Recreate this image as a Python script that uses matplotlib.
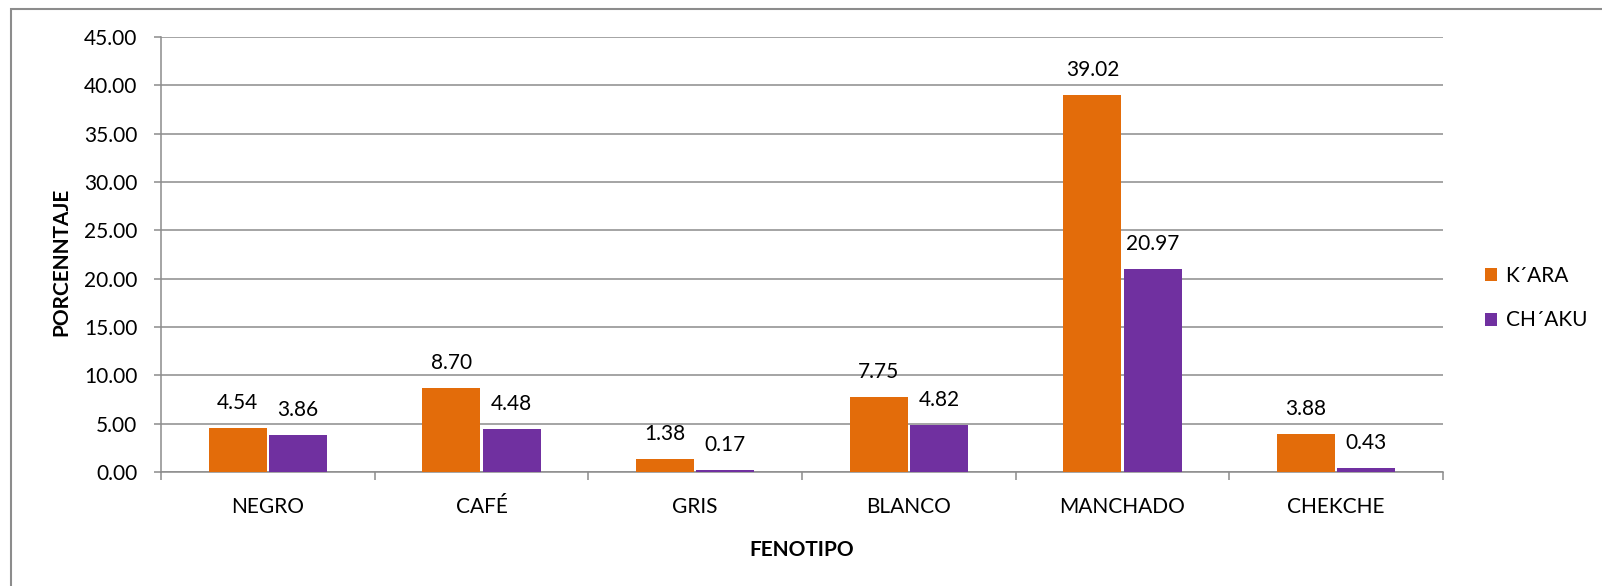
import matplotlib
matplotlib.use("Agg")
import matplotlib.pyplot as plt
import numpy as np
from matplotlib.patches import Rectangle

categories = ["NEGRO", "CAFÉ", "GRIS", "BLANCO", "MANCHADO", "CHEKCHE"]
kara = [4.54, 8.70, 1.38, 7.75, 39.02, 3.88]
chaku = [3.86, 4.48, 0.17, 4.82, 20.97, 0.43]
series_names = ["K´ARA", "CH´AKU"]
colors = ["#E36C0A", "#7030A0"]
yticks = [0, 5, 10, 15, 20, 25, 30, 35, 40, 45]

plt.rcParams['font.family'] = ['Lato', 'DejaVu Sans']

W, H = 1602, 586
fig = plt.figure(figsize=(W / 100, H / 100), dpi=100)
ax = fig.add_axes([161 / W, 1 - 472 / H, (1443 - 161) / W, (472 - 37) / H])

# figure border (top and left visible)
fig.patches.append(Rectangle((11 / W, -0.1), 1.2, 1 - 9 / H + 0.1, transform=fig.transFigure,
                             fill=False, edgecolor="#8c8c8c", linewidth=1.5))

x = np.arange(len(categories))
bw = 0.272
off = 0.141
b1 = ax.bar(x - off, kara, bw, color=colors[0], label=series_names[0], zorder=3)
b2 = ax.bar(x + off, chaku, bw, color=colors[1], label=series_names[1], zorder=3)

fs = 15
for xs, vals in ((x - off, kara), (x + off, chaku)):
    for xi, v in zip(xs, vals):
        ax.annotate(f"{v:.2f}", (xi, v), xytext=(0, 18), textcoords="offset points",
                    ha="center", va="center", fontsize=fs, color="black")

ax.set_xlim(-0.5, len(categories) - 0.5)
ax.set_ylim(0, 45)
ax.set_yticks(yticks)
ax.set_yticklabels([f"{t:.2f}" for t in yticks])
ax.yaxis.grid(True, color="#8c8c8c", linewidth=1.1, zorder=0)
ax.set_axisbelow(True)

ax.set_xticks(x)
ax.set_xticklabels(categories)
ax.set_xticks(np.arange(-0.5, len(categories), 1.0), minor=True)
ax.tick_params(axis="x", which="major", length=0, pad=18, labelsize=fs)
ax.tick_params(axis="x", which="minor", length=6, width=1.1, color="#8c8c8c")
ax.tick_params(axis="y", length=5, width=1.1, color="#8c8c8c", pad=12, labelsize=fs)

for s in ("top", "right"):
    ax.spines[s].set_visible(False)
for s in ("left", "bottom"):
    ax.spines[s].set_color("#8c8c8c")
    ax.spines[s].set_linewidth(1.1)

fig.text(61 / W, 1 - 262 / H, "PORCENNTAJE", rotation=90, ha="center", va="center",
         fontsize=fs, fontweight="bold")
fig.text(((161 + 1443) / 2) / W, 1 - 550 / H, "FENOTIPO", ha="center", va="center",
         fontsize=fs, fontweight="bold")

fig.legend(handles=[b1, b2], labels=series_names, loc="center left",
           bbox_to_anchor=(1466 / W, 1 - 298 / H), frameon=False, fontsize=fs,
           handlelength=0.6, handleheight=0.6, handletextpad=0.4, labelspacing=1.2)

fig.savefig("out.png", dpi=100)
